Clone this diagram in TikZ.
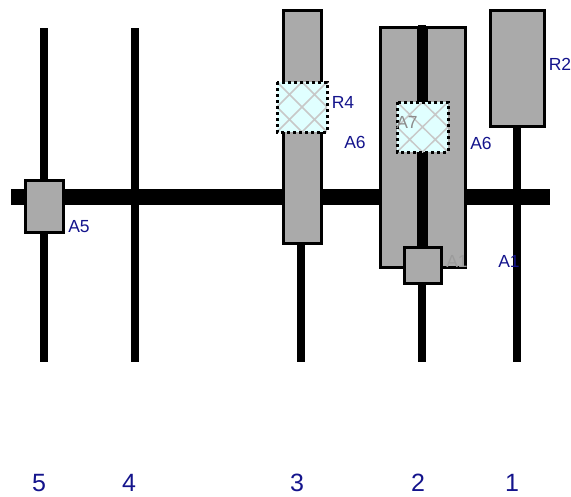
\documentclass[tikz,border=0pt]{standalone}
\usepackage{fontspec}
\setmainfont{Liberation Sans}
\definecolor{lblue}{RGB}{20,20,140}
\definecolor{boxgray}{RGB}{170,170,170}
\definecolor{hatchcyan}{RGB}{224,255,255}
\definecolor{hatchline}{RGB}{200,200,200}
\definecolor{ghost}{RGB}{140,140,140}
\definecolor{ghostb}{RGB}{155,155,155}
\tikzset{
  shaft/.style={line width=8pt, black},
  mainbar/.style={line width=16pt, black},
  partbox/.style={draw=black, line width=3pt, fill=boxgray},
  hatchbox/.style={draw=black, line width=3pt, dash pattern=on 3pt off 3pt, fill=hatchcyan},
  lbl/.style={text=lblue, font=\fontsize{17.5}{17.5}\selectfont, inner sep=0pt},
  ghostlbl/.style={text=ghost, font=\fontsize{17.5}{17.5}\selectfont, inner sep=0pt},
  numlbl/.style={text=lblue, font=\fontsize{25}{25}\selectfont, inner sep=0pt},
}
\begin{document}
\begin{tikzpicture}[x=1pt,y=-1pt]
\useasboundingbox (0,0) rectangle (571,496);
% shaft end coordinates
\coordinate (s5t) at (44,28);  \coordinate (s5b) at (44,362);
\coordinate (s4t) at (135,28); \coordinate (s4b) at (135,362);
\coordinate (s3t) at (301,243); \coordinate (s3b) at (301,362);
\coordinate (s2t) at (422,25); \coordinate (s2b) at (422,362);
\coordinate (s1t) at (517,126); \coordinate (s1b) at (517,362);
\coordinate (barL) at (11,197); \coordinate (barR) at (550,197);
% vertical shafts
\draw[shaft] (s5t) -- (s5b);
\draw[shaft] (s4t) -- (s4b);
\draw[shaft] (s3t) -- (s3b);
\draw[shaft] (s1t) -- (s1b);
% main horizontal bar
\draw[mainbar] (barL) -- (barR);
% column 3 box
\draw[partbox] (283,10) rectangle (321,243);
% column 2 boxes
\draw[partbox] (380,27) rectangle (418,267);
\draw[partbox] (426,27) rectangle (465,267);
\draw[shaft] (s2t) -- (s2b);
% column 1 box
\draw[partbox] (490,10) rectangle (544,126);
% column 5 box
\draw[partbox] (25,180) rectangle (63,232);
% hatch box col 3
\draw[hatchbox] (277,82) rectangle (327,132);
\begin{scope}
\clip (277,82) rectangle (327,132);
\draw[hatchline, line width=1.5pt] (277,82) -- (327,132) (327,82) -- (277,132)
  (302,82) -- (327,107) -- (302,132) -- (277,107) -- cycle;
\end{scope}
\draw[black, line width=3pt, dash pattern=on 3pt off 3pt] (277,82) rectangle (327,132);
% hatch box col 2
\draw[hatchbox] (397,102) rectangle (448,152);
\begin{scope}
\clip (397,102) rectangle (448,152);
\draw[hatchline, line width=1.5pt] (397,102) -- (448,152) (448,102) -- (397,152)
  (422.5,102) -- (448,127) -- (422.5,152) -- (397,127) -- cycle;
\end{scope}
\draw[black, line width=3pt, dash pattern=on 3pt off 3pt] (397,102) rectangle (448,152);
% small box col 2
\node[ghostlbl, text=ghostb] (gA1) at (457,261) {A1};
\draw[partbox] (404,247) rectangle (441,283);
% labels
\node[lbl] (R4) at (343,102) {R4};
\node[lbl] (A6a) at (355,142) {A6};
\node[lbl] (A5) at (79,227) {A5};
\node[lbl] (R2) at (560,64) {R2};
\node[lbl] (A6b) at (481,143) {A6};
\node[lbl] (A1) at (509,261) {A1};
\node[ghostlbl] (A7) at (407,122) {A7};
% column numbers
\node[numlbl] (n5) at (39,483) {5};
\node[numlbl] (n4) at (129,483) {4};
\node[numlbl] (n3) at (297,483) {3};
\node[numlbl] (n2) at (418,483) {2};
\node[numlbl] (n1) at (512,483) {1};
\end{tikzpicture}
\end{document}
